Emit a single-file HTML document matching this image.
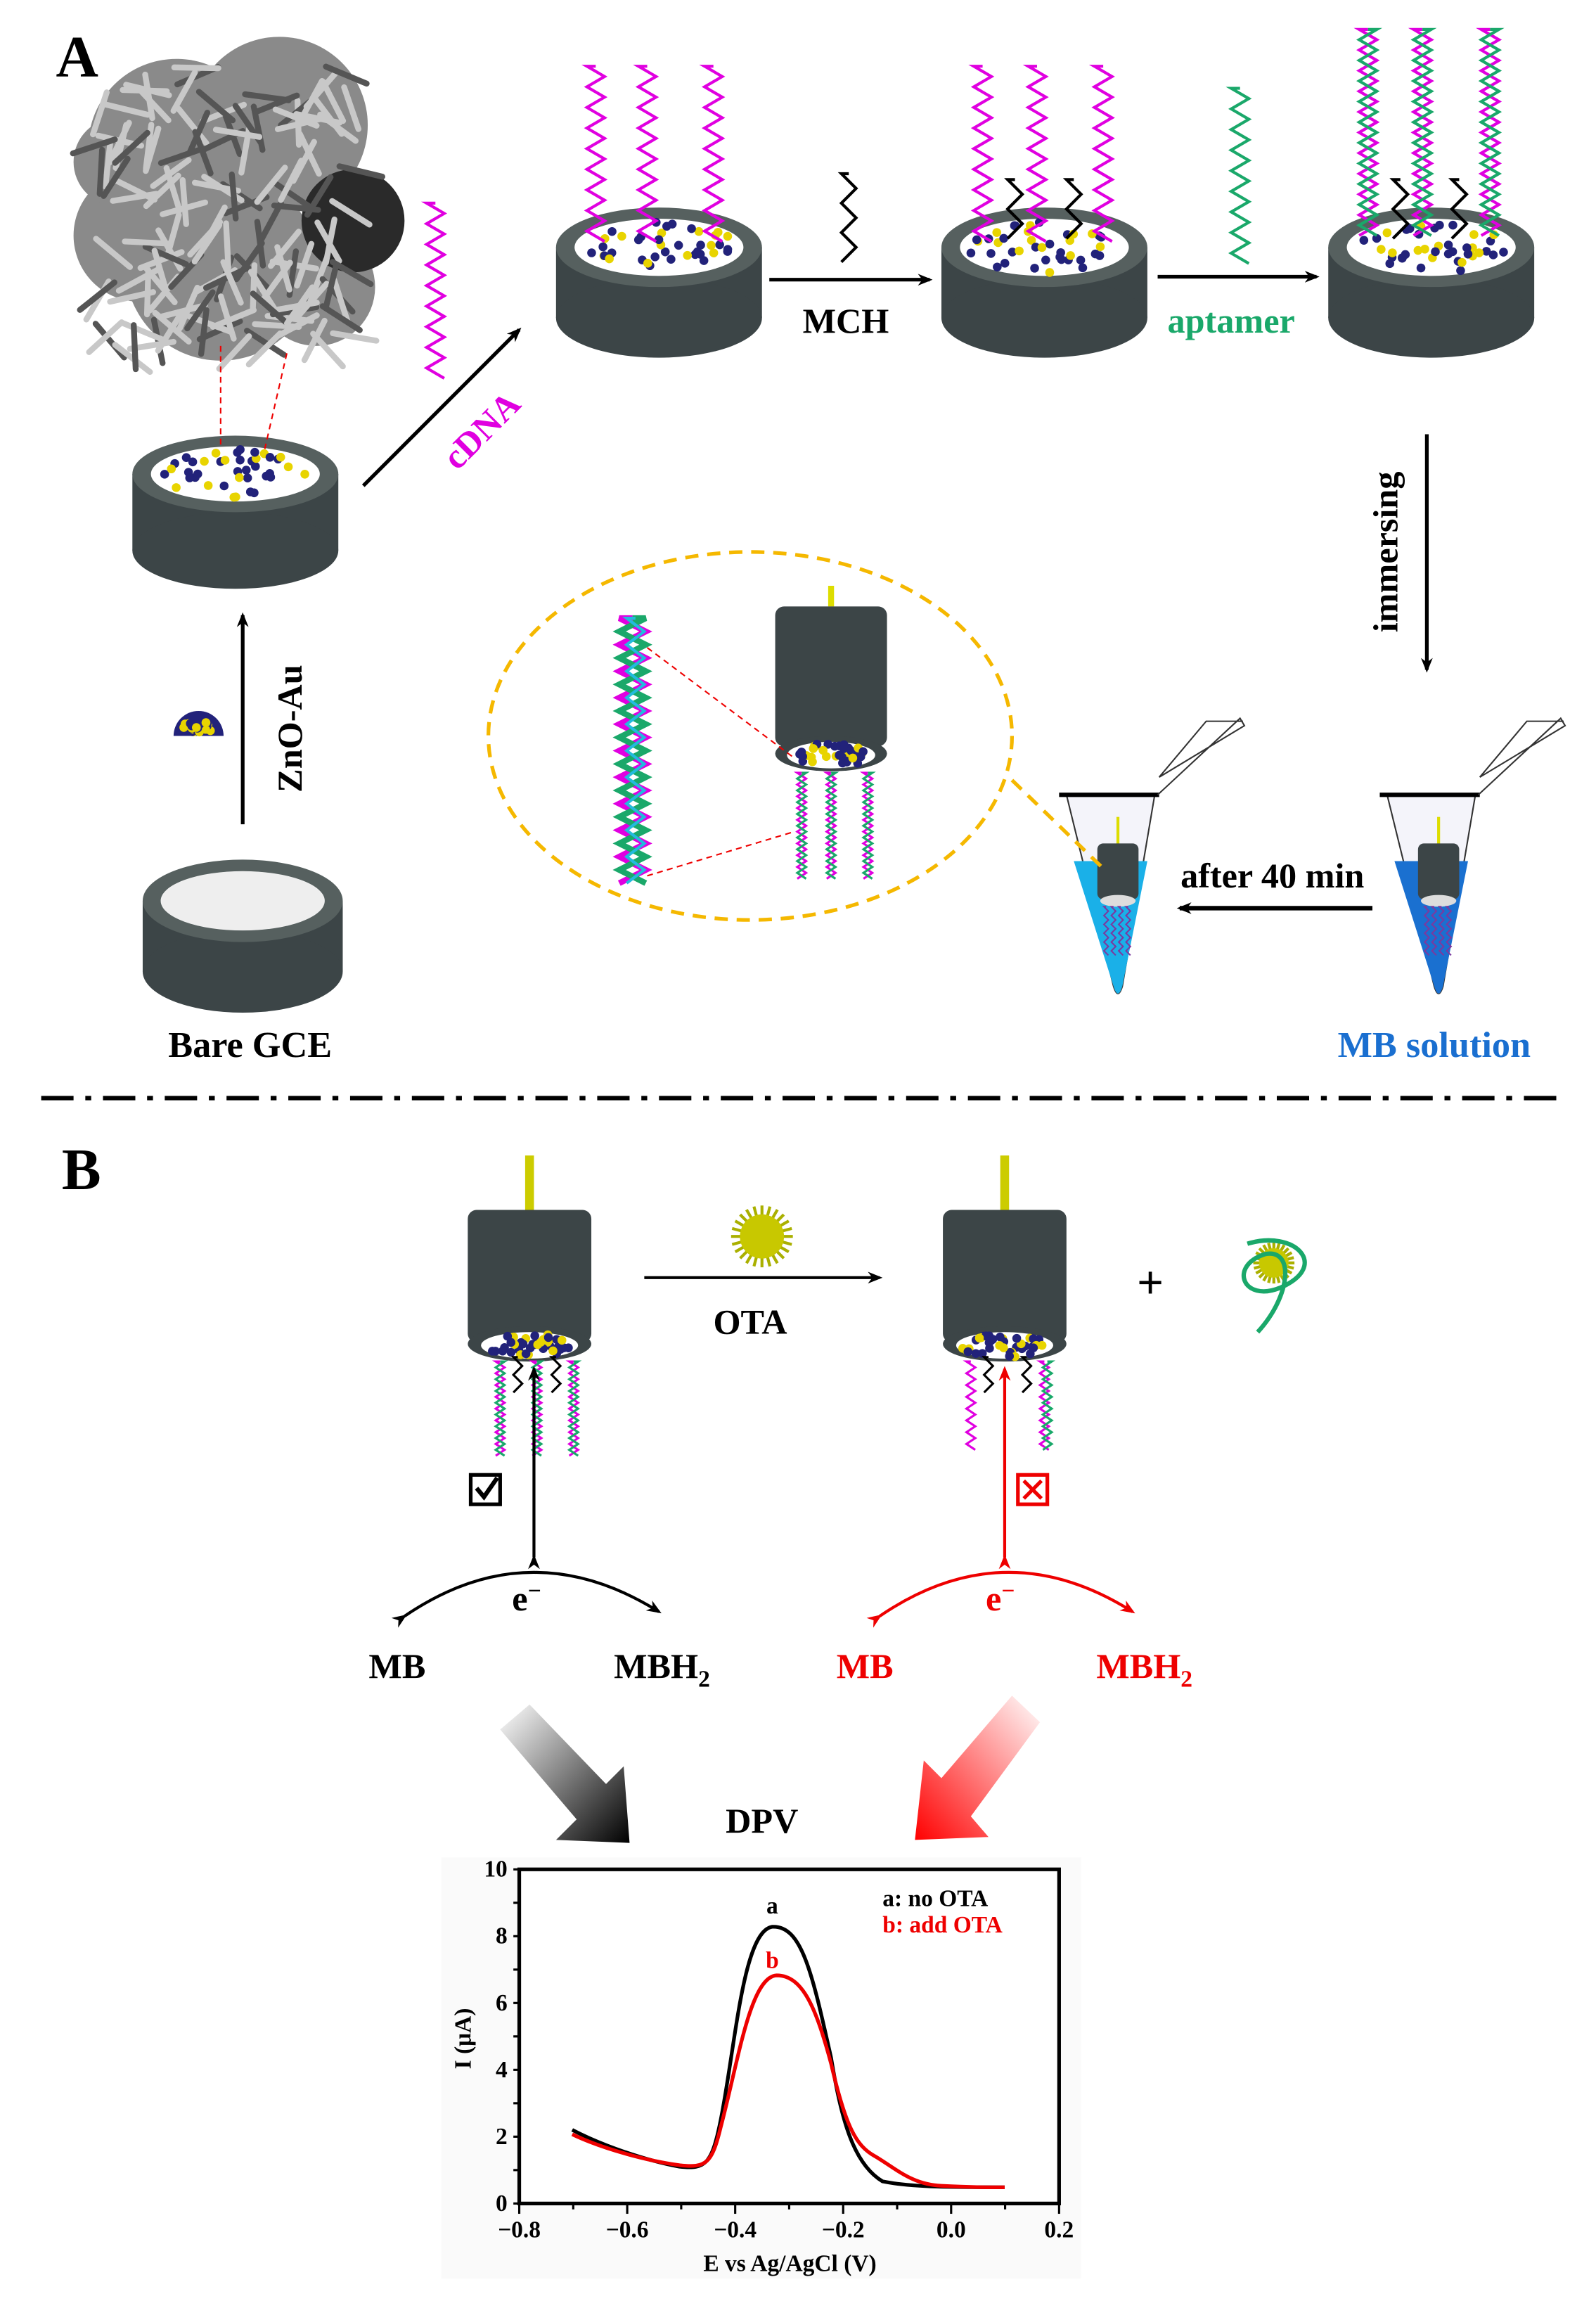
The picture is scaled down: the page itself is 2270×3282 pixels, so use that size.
<!DOCTYPE html>
<html><head><meta charset="utf-8"><style>
html,body{margin:0;padding:0;background:#fff}
svg{display:block}
svg text{font-family:"Liberation Serif","Times New Roman",serif;font-weight:bold}
</style></head><body>
<svg id="s" width="2270" height="3282" viewBox="0 0 1085 1568" preserveAspectRatio="none" xmlns="http://www.w3.org/2000/svg" font-family="Liberation Serif, serif">
<defs>
<marker id="ah" markerWidth="10" markerHeight="10" refX="8" refY="5" orient="auto" markerUnits="userSpaceOnUse"><path d="M0,1 L10,5 L0,9 L3,5z" fill="#000"/></marker>
<marker id="ahr" markerWidth="10" markerHeight="10" refX="8" refY="5" orient="auto" markerUnits="userSpaceOnUse"><path d="M0,1 L10,5 L0,9 L3,5z" fill="#e00"/></marker>
<linearGradient id="gb" x1="0" y1="0" x2="1" y2="1"><stop offset="0" stop-color="#fff"/><stop offset="1" stop-color="#000"/></linearGradient>
<linearGradient id="gr" x1="1" y1="0" x2="0" y2="1"><stop offset="0" stop-color="#fff"/><stop offset="1" stop-color="#f00"/></linearGradient>
</defs>

<!-- SEM blob -->
<g fill="#8a8a8a">
<circle cx="120" cy="100" r="60"/><circle cx="190" cy="85" r="60"/>
<circle cx="150" cy="180" r="65"/><circle cx="95" cy="160" r="45"/><circle cx="215" cy="195" r="40"/><circle cx="80" cy="110" r="30"/>
</g>
<circle cx="240" cy="150" r="35" fill="#2a2a2a"/>
<g id="dyn"></g>

<text x="38" y="52" font-size="40">A</text>
<text x="42" y="808" font-size="40">B</text>

<line x1="150" y1="235" x2="150" y2="305" stroke="#e00" stroke-dasharray="4,3"/>
<line x1="195" y1="240" x2="180" y2="305" stroke="#e00" stroke-dasharray="4,3"/>

<line x1="165" y1="560" x2="165" y2="418" stroke="#000" stroke-width="2.5" marker-end="url(#ah)"/>
<text transform="translate(205,495) rotate(-90)" font-size="24" text-anchor="middle">ZnO-Au</text>
<line x1="247" y1="330" x2="353" y2="224" stroke="#000" stroke-width="2.5" marker-end="url(#ah)"/>
<text transform="translate(333,298) rotate(-45)" font-size="24" text-anchor="middle" fill="#e000e0">cDNA</text>
<line x1="523" y1="190" x2="632" y2="190" stroke="#000" stroke-width="2.5" marker-end="url(#ah)"/>
<text x="575" y="226" font-size="24" text-anchor="middle">MCH</text>
<line x1="787" y1="188" x2="895" y2="188" stroke="#000" stroke-width="2.5" marker-end="url(#ah)"/>
<text x="837" y="226" font-size="24" text-anchor="middle" fill="#1aa86a">aptamer</text>
<line x1="970" y1="295" x2="970" y2="455" stroke="#000" stroke-width="2.5" marker-end="url(#ah)"/>
<text transform="translate(950,375) rotate(-90)" font-size="24" text-anchor="middle">immersing</text>
<line x1="933" y1="617" x2="802" y2="617" stroke="#000" stroke-width="3" marker-end="url(#ah)"/>
<text x="865" y="603" font-size="24" text-anchor="middle">after 40 min</text>
<text x="170" y="718" font-size="25" text-anchor="middle">Bare GCE</text>
<text x="975" y="718" font-size="25" text-anchor="middle" fill="#1a6fd0">MB solution</text>

<ellipse cx="510" cy="500" rx="178" ry="125" fill="none" stroke="#f5b800" stroke-width="2.5" stroke-dasharray="9,6"/>
<line x1="440" y1="595" x2="540" y2="565" stroke="#e00" stroke-dasharray="4,3"/>
<line x1="440" y1="440" x2="540" y2="515" stroke="#e00" stroke-dasharray="4,3"/>
<line x1="688" y1="530" x2="750" y2="590" stroke="#f5b800" stroke-width="2.5" stroke-dasharray="9,6"/>

<line x1="28" y1="746" x2="1065" y2="746" stroke="#000" stroke-width="3" stroke-dasharray="22,8,4,8"/>

<line x1="438" y1="868" x2="598" y2="868" stroke="#000" stroke-width="2" marker-end="url(#ah)"/>
<text x="510" y="906" font-size="24" text-anchor="middle">OTA</text>
<text x="782" y="882" font-size="32" text-anchor="middle" font-weight="normal">+</text>
<line x1="363" y1="1058" x2="363" y2="930" stroke="#000" stroke-width="2" marker-end="url(#ah)" marker-start="url(#ah)"/>
<line x1="683" y1="1058" x2="683" y2="930" stroke="#e00" stroke-width="2" marker-end="url(#ahr)" marker-start="url(#ahr)"/>
<rect x="320" y="1002" width="20" height="20" fill="none" stroke="#000" stroke-width="2.5"/>
<path d="M324,1011 l5,6 l9,-13" fill="none" stroke="#000" stroke-width="3"/>
<rect x="692" y="1002" width="20" height="20" fill="none" stroke="#e00" stroke-width="2.5"/>
<path d="M696,1006 l12,12 M708,1006 l-12,12" stroke="#e00" stroke-width="2.5"/>
<path d="M275,1098 Q360,1040 448,1095" fill="none" stroke="#000" stroke-width="2" marker-end="url(#ah)" marker-start="url(#ah)"/>
<path d="M598,1098 Q683,1040 770,1095" fill="none" stroke="#e00" stroke-width="2" marker-end="url(#ahr)" marker-start="url(#ahr)"/>
<text x="358" y="1094" font-size="24" text-anchor="middle">e<tspan dy="-8" font-size="16">−</tspan></text>
<text x="680" y="1094" font-size="24" text-anchor="middle" fill="#e00">e<tspan dy="-8" font-size="16">−</tspan></text>
<text x="270" y="1140" font-size="24" text-anchor="middle">MB</text>
<text x="450" y="1140" font-size="24" text-anchor="middle">MBH<tspan dy="6" font-size="16">2</tspan></text>
<text x="588" y="1140" font-size="24" text-anchor="middle" fill="#e00">MB</text>
<text x="778" y="1140" font-size="24" text-anchor="middle" fill="#e00">MBH<tspan dy="6" font-size="16">2</tspan></text>
<path d="M340,1175 L360,1158 L412,1212 L424,1200 L428,1252 L378,1250 L392,1236 Z" fill="url(#gb)"/>
<path d="M707,1170 L688,1152 L640,1208 L628,1196 L622,1250 L672,1248 L660,1234 Z" fill="url(#gr)"/>
<text x="518" y="1245" font-size="24" text-anchor="middle">DPV</text>

<rect x="300" y="1262" width="435" height="286" fill="#fafafa"/>
<rect x="353" y="1270" width="367" height="227" fill="#fff" stroke="#000" stroke-width="2.5"/>
<g id="ticks"></g>
<path d="M389,1447 C410,1458 440,1468 462,1472 C480,1474 484,1470 490,1440 C500,1390 505,1312 525,1309 C545,1308 552,1340 565,1398 C572,1440 580,1470 600,1482 C620,1486 650,1486 683,1486" fill="none" stroke="#000" stroke-width="2.5"/>
<path d="M389,1450 C410,1460 440,1468 462,1471 C480,1473 484,1470 490,1445 C502,1400 510,1343 528,1342 C546,1342 555,1365 565,1402 C575,1445 582,1458 595,1465 C610,1474 620,1484 640,1485 C660,1486 670,1486 683,1486" fill="none" stroke="#e00" stroke-width="2.5"/>
<text x="525" y="1300" font-size="16" text-anchor="middle">a</text>
<text x="525" y="1337" font-size="16" text-anchor="middle" fill="#e00">b</text>
<text x="600" y="1295" font-size="16">a: no OTA</text>
<text x="600" y="1313" font-size="16" fill="#e00">b: add OTA</text>
<text transform="translate(320,1385) rotate(-90)" font-size="16" text-anchor="middle">I (μA)</text>
<text x="537" y="1543" font-size="16" text-anchor="middle">E vs Ag/AgCl (V)</text>
</svg>
<script>
var NS="http://www.w3.org/2000/svg",g=document.getElementById("dyn");
var seed=7;function rnd(){seed=(seed*16807)%2147483647;return seed/2147483647;}
function el(t,a,p){var e=document.createElementNS(NS,t);for(var k in a)e.setAttribute(k,a[k]);(p||g).appendChild(e);return e;}
function zig(x,y1,y2,c,amp,per,w,ph){var d="M"+x+","+y1,i=0;for(var y=y1;y<=y2;y+=per/2){d+=" L"+(x+((i+(ph||0))%2?amp:-amp))+","+y;i++;}el("path",{d:d,fill:"none",stroke:c,"stroke-width":w||2});}
function dots(cx,cy,rx,ry){for(var i=0;i<40;i++){var a=rnd()*6.28,r=Math.sqrt(rnd());el("circle",{cx:cx+Math.cos(a)*r*rx*0.9,cy:cy+Math.sin(a)*r*ry*0.9,r:3,fill:i%3?"#22227a":"#e8d400"});}}
function elec(cx,top,rx,ry,h,bare){el("rect",{x:cx-rx,y:top,width:2*rx,height:h,fill:"#3c4547"});el("ellipse",{cx:cx,cy:top+h,rx:rx,ry:ry,fill:"#3c4547"});el("ellipse",{cx:cx,cy:top,rx:rx,ry:ry,fill:"#56605f"});el("ellipse",{cx:cx,cy:top,rx:rx*0.82,ry:ry*0.72,fill:bare?"#f0f0f0":"#fff"});if(!bare)dots(cx,top,rx*0.82,ry*0.72);}
for(var i=0;i<140;i++){var x=65+rnd()*170,y=45+rnd()*190,a=rnd()*3;el("line",{x1:x,y1:y,x2:x+Math.cos(a)*30,y2:y+Math.sin(a)*30,stroke:i%3==0?"#555":"#c8c8c8","stroke-width":4,"stroke-linecap":"round"});}
elec(160,322,70,26,52,false);
elec(165,612,68,28,48,true);
el("ellipse",{cx:165,cy:612,rx:55,ry:20,fill:"#eee"});
el("path",{d:"M118,500 A17,17 0 0 1 152,500 Z",fill:"#22227a"});dots(135,494,12,5);
zig(296,138,260,"#e000e0",6,14,2);
elec(448,168,70,27,48,false);[405,440,485].forEach(function(x){zig(x,45,165,"#e000e0",6,14,2);});
zig(577,118,178,"#000",5,20,2);
elec(710,168,70,27,48,false);[668,705,750].forEach(function(x){zig(x,45,165,"#e000e0",6,14,2);});[690,730].forEach(function(x){zig(x,122,170,"#000",5,20,2);});
zig(843,60,180,"#1aa86a",6,14,2);
elec(973,168,70,27,48,false);[930,967,1013].forEach(function(x){zig(x,20,160,"#e000e0",6,14,2);zig(x,20,160,"#1aa86a",6,14,2,1);});[952,992].forEach(function(x){zig(x,122,170,"#000",5,20,2);});
zig(430,420,605,"#e000e0",9,18,4);zig(430,420,605,"#1aa86a",9,18,4,1);zig(432,420,605,"#2bd",6,18,2);
el("line",{x1:565,y1:398,x2:565,y2:412,stroke:"#dd0","stroke-width":4});
el("rect",{x:527,y:412,width:76,height:95,fill:"#3c4547",rx:6});
el("ellipse",{cx:565,cy:512,rx:38,ry:12,fill:"#3c4547"});el("ellipse",{cx:565,cy:513,rx:30,ry:9,fill:"#fff"});dots(565,513,30,9);
[545,565,590].forEach(function(x){zig(x,525,600,"#e000e0",3,8,1.5);zig(x,525,600,"#1aa86a",3,8,1.5,1);});
function tube(cx,col){el("path",{d:"M"+(cx-35)+",540 L"+(cx+25)+",540 L"+(cx+3)+",670 Q"+cx+",680 "+(cx-3)+",670 Z",fill:"#f4f4fa",stroke:"#333","stroke-width":1});
el("path",{d:"M"+(cx-30)+",585 L"+(cx+20)+",585 L"+(cx+3)+",670 Q"+cx+",680 "+(cx-3)+",670 Z",fill:col});
el("line",{x1:cx-40,y1:540,x2:cx+28,y2:540,stroke:"#000","stroke-width":3});
el("path",{d:"M"+(cx+27)+",540 L"+(cx+83)+",488 L"+(cx+86)+",493 L"+(cx+28)+",528 M"+(cx+28)+",528 L"+(cx+60)+",490 L"+(cx+85)+",490",fill:"none",stroke:"#333","stroke-width":1});
el("line",{x1:cx,y1:555,x2:cx,y2:575,stroke:"#dd0","stroke-width":2});
el("rect",{x:cx-14,y:573,width:28,height:38,fill:"#3c4547",rx:4});el("ellipse",{cx:cx,cy:612,rx:12,ry:4,fill:"#ddd"});
for(var k=-8;k<=8;k+=5)zig(cx+k,616,650,"#7a3aa0",1.5,6,1);}
tube(760,"#1ab0e8");tube(978,"#1a70d0");
function belec(cx,ss){el("line",{x1:cx,y1:785,x2:cx,y2:824,stroke:"#cc0","stroke-width":6});el("rect",{x:cx-42,y:822,width:84,height:90,fill:"#3c4547",rx:6});
el("ellipse",{cx:cx,cy:913,rx:42,ry:12,fill:"#3c4547"});el("ellipse",{cx:cx,cy:914,rx:33,ry:9,fill:"#fff"});dots(cx,914,33,9);ss();}
belec(360,function(){[340,365,390].forEach(function(x){zig(x,925,990,"#e000e0",3,8,1.5);zig(x,925,990,"#1aa86a",3,8,1.5,1);});[352,378].forEach(function(x){zig(x,922,948,"#000",3,12,1.5);});});
belec(683,function(){[660,710].forEach(function(x){zig(x,925,985,"#e000e0",3,8,1.5);});zig(712,925,985,"#1aa86a",3,8,1.5,1);[672,698].forEach(function(x){zig(x,922,948,"#000",3,12,1.5);});});
function ball(cx,cy,r){for(var i=0;i<24;i++){var a=i*Math.PI/12;el("line",{x1:cx,y1:cy,x2:cx+Math.cos(a)*r*1.4,y2:cy+Math.sin(a)*r*1.4,stroke:"#aab000","stroke-width":2});}el("circle",{cx:cx,cy:cy,r:r,fill:"#c8c800"});}
ball(518,840,15);ball(866,858,10);
el("path",{d:"M848,845 C880,835 905,860 870,875 C845,885 835,860 860,852 C880,848 878,880 855,905",fill:"none",stroke:"#1aa86a","stroke-width":3});
var t=document.getElementById("ticks");
for(var v=-8;v<=2;v++){var x=353+(v+8)*36.7;el("line",{x1:x,y1:1497,x2:x,y2:v%2?1501:1504,stroke:"#000","stroke-width":1.5},t);
if(v%2==0){var tx=el("text",{x:x,y:1520,"font-size":16,"text-anchor":"middle"},t);tx.textContent=(v<0?"−":"")+Math.abs(v/10).toFixed(1);}}
for(var i=0;i<=10;i++){var y=1497-i*22.7;el("line",{x1:349,y1:y,x2:353,y2:y,stroke:"#000","stroke-width":1.5},t);
if(i%2==0){var ty=el("text",{x:345,y:y+5,"font-size":16,"text-anchor":"end"},t);ty.textContent=i;}}
</script>
</body></html>
